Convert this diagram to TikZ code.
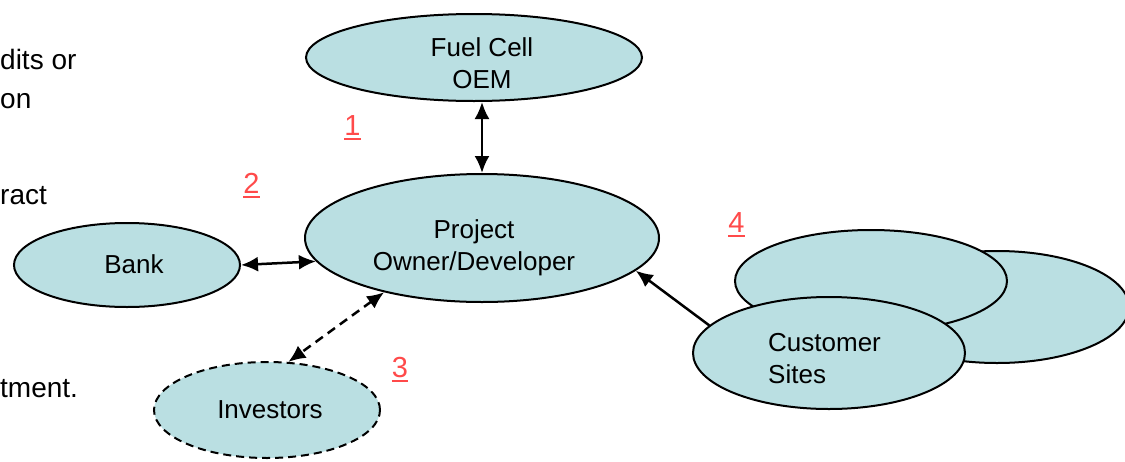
\documentclass[tikz,border=0pt]{standalone}
\usepackage{fontspec}
\setmainfont{Liberation Sans}
\usetikzlibrary{arrows.meta,shapes.geometric}
\definecolor{ellfill}{HTML}{BADFE2}
\definecolor{numred}{HTML}{FF4A4A}
\newcommand{\numul}[1]{\setbox0\hbox{#1}\rlap{\rule[-5pt]{\wd0}{2.2pt}}\box0}
\begin{document}
\begin{tikzpicture}[x=1pt,y=-1pt,
  ell/.style={ellipse,draw=black,line width=2pt,fill=ellfill,inner sep=0pt},
  lbl/.style={font=\fontsize{26}{31.5}\selectfont,inner sep=0pt,anchor=base,align=center},
  num/.style={text=numred,font=\fontsize{29}{32}\selectfont,inner sep=0pt,anchor=base},
  side/.style={font=\fontsize{28}{34}\selectfont,inner sep=0pt,anchor=base west},
  conn/.style={line width=2.5pt,{Latex[length=17pt,width=15pt]}-{Latex[length=17pt,width=15pt]}},
  conn1/.style={line width=2.5pt,-{Latex[length=17pt,width=15pt]}}
]
\useasboundingbox (0,0) rectangle (1125,461);
% left text fragments
\node[side] (t1) at (0,69) {dits or};
\node[side] (t2) at (0,108) {on};
\node[side] (t3) at (0,204) {ract};
\node[side] (t4) at (0,397) {tment.};
% ellipses
\node[ell,minimum width=336pt,minimum height=87pt] (oem) at (474,57.5) {};
\node[ell,minimum width=354pt,minimum height=128pt] (owner) at (482,238) {};
\node[ell,minimum width=226pt,minimum height=84pt] (bank) at (127,265) {};
\node[ell,dash pattern=on 8pt off 5pt,minimum width=226pt,minimum height=96pt] (inv) at (267,410) {};
\node[ell,minimum width=264pt,minimum height=112pt] (site3) at (997,307) {};
\node[ell,minimum width=272pt,minimum height=102pt] (site2) at (871,281) {};
\node[ell,minimum width=272pt,minimum height=112pt] (site1) at (829,353) {};
% texts (base anchor = baseline of last line)
\node[lbl] (oemtxt) at (482,88) {Fuel Cell\\OEM};
\node[lbl] (ownertxt) at (474,270) {Project\\Owner/Developer};
\node[lbl] (banktxt) at (134,273) {Bank};
\node[lbl] (invtxt) at (270,418) {Investors};
\node[lbl,anchor=base west,align=left] (sitetxt) at (768,383) {Customer\\Sites};
% connectors
\draw[conn] (owner.north) -- (owner.north |- oem.south);
\draw[conn] (bank.east) -- (owner.188);
\draw[conn,dash pattern=on 9pt off 6pt] (owner.209) -- (inv.66);
\draw[conn1] (site1.167) -- (owner.348);
% numbers
\node[num] (n1) at (352.5,135) {\numul{1}};
\node[num] (n2) at (251.5,193) {\numul{2}};
\node[num] (n3) at (400,377) {\numul{3}};
\node[num] (n4) at (736.5,232) {\numul{4}};
\end{tikzpicture}
\end{document}
